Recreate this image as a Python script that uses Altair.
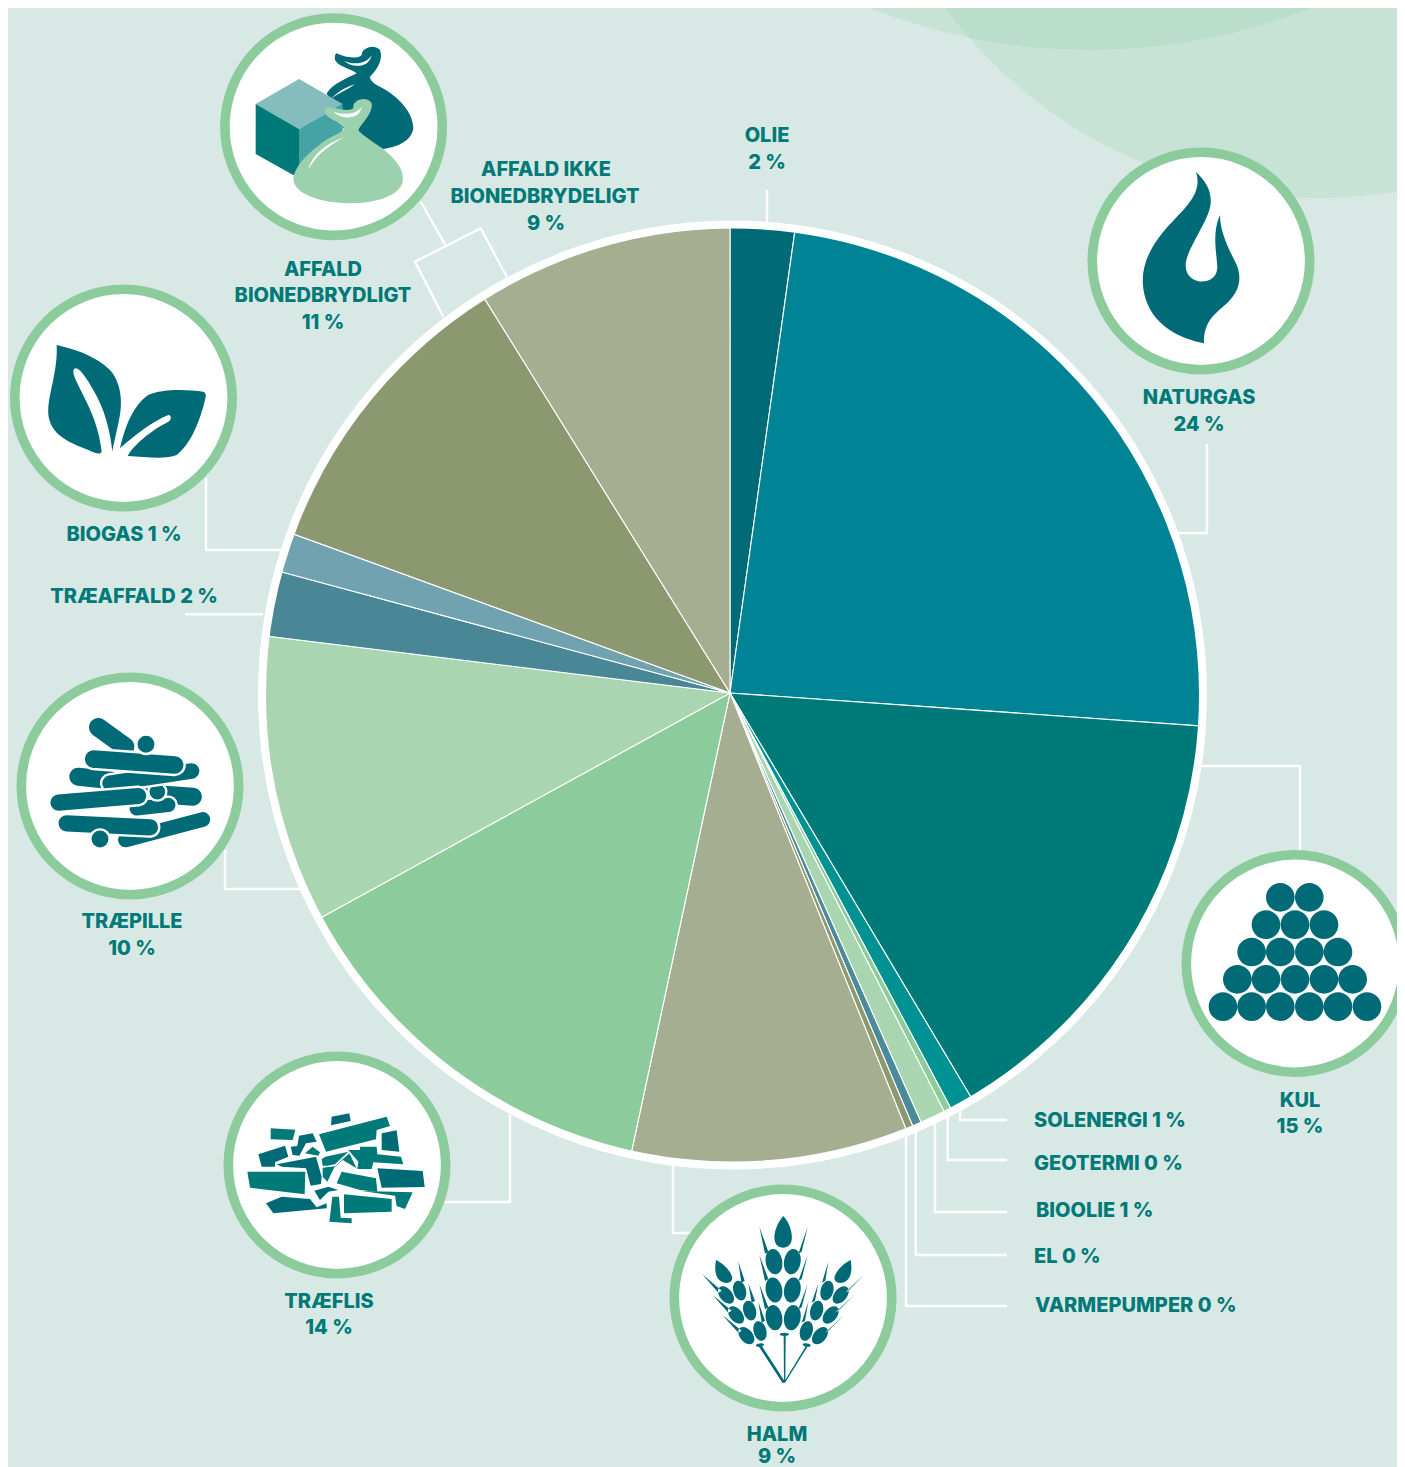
import math
import altair as alt
import pandas as pd

BG = "#d8e9e5"
TXT = "#007a78"
DARK = "#006b76"
TEAL = "#007a78"
GREEN = "#8ccb9b"

# ---- pie values (percent), clockwise from the top
names = ["OLIE", "NATURGAS", "KUL", "SOLENERGI", "GEOTERMI", "BIOOLIE", "EL", "VARMEPUMPER", "HALM",
         "TRÆFLIS", "TRÆPILLE", "TRÆAFFALD", "BIOGAS", "AFFALD BIO", "AFFALD IKKE BIO"]
values = [2.22, 23.89, 15.33, 0.78, 0.25, 0.86, 0.31, 0.25, 9.47, 13.64, 9.94, 2.25, 1.36, 10.58, 8.86]
colors = ["#006b76", "#008394", "#007a78", "#009292", "#8ccb9b", "#a9d5b1", "#4a8a99", "#8c9970", "#a5ae90",
          "#8ccb9b", "#a9d5b1", "#498797", "#70a2b0", "#8c9970", "#a5ae90"]

# ---- labels
center_labels = [("OLIE", 767, 136), ("2 %", 767, 163),
                 ("AFFALD IKKE", 546, 170), ("BIONEDBRYDELIGT", 545, 197), ("9 %", 546, 224),
                 ("NATURGAS", 1199, 398), ("24 %", 1199, 425),
                 ("AFFALD", 323, 270), ("BIONEDBRYDLIGT", 323, 296), ("11 %", 323, 323),
                 ("BIOGAS 1 %", 124, 535), ("TRÆAFFALD 2 %", 134, 597),
                 ("TRÆPILLE", 132, 922), ("10 %", 132, 949),
                 ("TRÆFLIS", 329, 1302), ("14 %", 329, 1328),
                 ("HALM", 777, 1435), ("9 %", 777, 1457),
                 ("KUL", 1300, 1101), ("15 %", 1300, 1127)]
left_labels = [("SOLENERGI 1 %", 1034, 1121), ("GEOTERMI  0 %", 1034, 1164), ("BIOOLIE 1 %", 1036, 1211),
               ("EL 0 %", 1034, 1257), ("VARMEPUMPER 0 %", 1035, 1306)]

# ---- leader lines
leaders = [
    [(767, 190), (767, 224)],
    [(1207, 444), (1207, 533), (1176, 533)],
    [(1197, 766), (1300, 766), (1300, 854)],
    [(960, 1110), (960, 1120), (1007, 1120)],
    [(947.7, 1115), (947.7, 1160), (1007, 1160)],
    [(935, 1122), (935, 1212), (1007, 1212)],
    [(915.7, 1130), (915.7, 1255), (1007, 1255)],
    [(906, 1132), (906, 1306), (1007, 1306)],
    [(673, 1163), (673, 1233), (692, 1233)],
    [(510, 1115), (510, 1202), (445, 1202)],
    [(225, 850), (225, 889), (301, 889)],
    [(185, 614.3), (263, 614.3)],
    [(206, 478), (206, 550), (281, 550)],
    [(420.7, 201.7), (445, 244.3)],
    [(506.7, 276.7), (480.7, 228.3), (415, 261.7), (443.3, 316.7)],
]

# ---- badges: centres
badges = [(333.6, 126.7), (1201, 261), (1295, 963.5), (783, 1298), (337, 1165), (130, 786), (123.5, 398)]
BADGE_R = 108.7
backdrop = [(1090, -551, 601), (1320, -266, 464)]


# ---- icon outline helpers: icons are drawn in a 3x local coordinate system
def circle(cx, cy, r):
    return f"M{cx-r},{cy}A{r},{r} 0 1 1 {cx+r},{cy}A{r},{r} 0 1 1 {cx-r},{cy}Z"


def ellipse(cx, cy, rx, ry, rot=0):
    a = math.radians(rot)
    dx, dy = ry * math.sin(a), -ry * math.cos(a)
    return (f"M{cx+dx:.1f},{cy+dy:.1f}A{rx},{ry} {rot} 1 1 {cx-dx:.1f},{cy-dy:.1f}"
            f"A{rx},{ry} {rot} 1 1 {cx+dx:.1f},{cy+dy:.1f}Z")


def poly(*pts):
    return "M" + "L".join(f"{x},{y}" for x, y in pts) + "Z"


def capsule(x1, y1, x2, y2, r):
    L = math.hypot(x2 - x1, y2 - y1)
    nx, ny = -(y2 - y1) / L * r, (x2 - x1) / L * r
    return (f"M{x1+nx:.1f},{y1+ny:.1f}L{x2+nx:.1f},{y2+ny:.1f}A{r},{r} 0 0 0 {x2-nx:.1f},{y2-ny:.1f}"
            f"L{x1-nx:.1f},{y1-ny:.1f}A{r},{r} 0 0 0 {x1+nx:.1f},{y1+ny:.1f}Z")


icon_rows = []


def add(ox, oy, path, color, halo=0):
    icon_rows.append(dict(x=ox, y=oy, path=path, color=color, order=len(icon_rows), halo=halo))


# affald
o = (210, 5)
add(*o, "M380,145C400,155 440,165 455,150C455,130 490,115 510,135C520,160 505,190 480,215C480,225 490,235 510,245"
        "C560,270 610,320 610,370C605,405 570,425 520,432L400,370L350,265C370,235 410,220 440,205"
        "C420,190 385,185 375,165C373,155 375,148 380,145Z", DARK)
add(*o, "M403,168C430,180 470,178 485,150C475,195 420,185 403,168Z", "#ffffff")
add(*o, "M365,280C385,260 410,245 435,238C410,255 385,265 365,280Z", "#ffffff")
add(*o, poly((137, 297), (267, 222), (398, 297), (267, 372)), "#85bcbd")
add(*o, poly((137, 297), (267, 372), (267, 520), (137, 447)), TEAL)
add(*o, poly((267, 372), (398, 297), (398, 440), (267, 520)), "#45a3a4")
add(*o, "M345,310C360,300 410,325 430,310C425,285 470,270 485,295C490,325 455,355 445,375C450,385 480,405 510,425"
        "C550,455 585,490 578,530C570,570 500,595 420,595C340,595 250,570 250,520C255,480 300,440 340,410"
        "C370,390 405,380 402,368C385,345 345,340 345,320Z", "#9bd1ad")
add(*o, "M370,320C395,330 440,330 455,305C450,345 395,345 370,320Z", "#ffffff")
add(*o, "M295,495C305,450 350,415 403,397C350,425 315,455 295,495Z", "#ffffff")

# naturgas
add(1080, 140, "M347,95C375,120 395,150 392,190C388,235 345,290 322,350C310,385 320,415 355,424C390,428 412,410 412,380"
               "C410,340 395,280 420,225C420,275 445,325 468,370C490,420 475,460 435,495C400,525 370,550 372,610"
               "C300,595 225,560 198,480C175,410 195,350 235,295C270,245 325,205 345,160C355,135 355,115 347,95Z", DARK)

# kul
kul_rows = [(157, [316, 403]), (239, [273, 360, 447]), (321, [230, 316, 403, 489]),
            (403, [187, 273, 360, 447, 533]), (485, [144, 230, 316, 403, 489, 576])]
add(1175, 845, "".join(circle(x, y, 43) for y, xs in kul_rows for x in xs), DARK)

# halm
o = (665, 1180)
p = "M355,108C375,130 383,160 380,180C377,197 365,203 355,203C340,203 330,195 328,175C328,150 340,125 355,108Z"
p += "M153,240C175,250 200,275 202,295C200,310 185,312 170,305C150,295 148,265 153,240Z"
p += "M557,240C535,250 510,275 508,295C510,310 525,312 540,305C560,295 562,265 557,240Z"
for y in (245, 330, 413):
    p += ellipse(327, y, 24, 38, -10) + ellipse(382, y, 24, 38, 10)
for (cx, cy, r) in [(183, 345, -40), (224, 332, -15), (213, 405, -40), (254, 392, -15), (244, 467, -40), (285, 453, -15),
                    (527, 345, 40), (486, 332, 15), (497, 405, 40), (455, 392, 15), (465, 467, 40), (424, 453, 15)]:
    p += ellipse(cx, cy, 19, 30, r)
for (tx, ty, bx, by) in [(283, 140, 305, 218), (283, 225, 305, 300), (283, 312, 305, 385),
                         (428, 140, 405, 218), (428, 225, 405, 300), (428, 312, 405, 385),
                         (112, 283, 165, 335), (143, 345, 195, 395), (172, 405, 225, 455),
                         (220, 245, 234, 305), (250, 310, 265, 365), (280, 365, 295, 425),
                         (598, 283, 545, 335), (567, 345, 515, 395), (538, 405, 485, 455),
                         (490, 245, 476, 305), (460, 310, 445, 365), (430, 365, 415, 425)]:
    p += poly((tx, ty), (bx - 5, by + 3), (bx + 5, by - 3))
p += poly((356, 468), (362, 468), (361, 608), (357, 608))
p += poly((282, 500), (290, 497), (360, 605), (353, 610))
p += poly((423, 498), (427, 501), (360, 608), (357, 606))
p += ellipse(358, 463, 5, 14, 90) + ellipse(285, 495, 5, 12, 80) + ellipse(425, 495, 5, 12, 100)
add(*o, p, DARK)

# traeflis
o = (220, 1045)
chips = [
    ([(335, 215), (388, 205), (392, 228), (333, 241)], DARK),
    ([(297, 268), (500, 215), (510, 243), (470, 255), (468, 283), (318, 320)], TEAL),
    ([(152, 250), (226, 254), (218, 285), (152, 283)], TEAL),
    ([(212, 305), (232, 303), (237, 272), (278, 265), (290, 290), (258, 295), (238, 332), (218, 330)], DARK),
    ([(115, 328), (195, 302), (205, 335), (165, 352), (165, 365), (125, 365)], DARK),
    ([(485, 265), (530, 256), (538, 320), (485, 315)], DARK),
    ([(385, 315), (420, 315), (420, 305), (470, 305), (472, 328), (543, 335), (550, 358), (460, 352), (455, 372),
      (412, 372), (415, 350)], TEAL),
    ([(255, 325), (278, 305), (300, 322), (295, 332)], TEAL),
    ([(170, 358), (288, 335), (305, 395), (303, 417), (272, 422), (258, 370), (185, 365)], DARK),
    ([(82, 380), (256, 380), (254, 448), (90, 428)], TEAL),
    ([(305, 342), (316, 335), (385, 320), (345, 358), (322, 362), (308, 362)], TEAL),
    ([(388, 325), (410, 370), (368, 345), (342, 368), (322, 410), (308, 395), (308, 368), (345, 364)], TEAL),
    ([(365, 380), (468, 400), (472, 440), (420, 435), (350, 415)], TEAL),
    ([(472, 370), (608, 378), (614, 426), (485, 428)], DARK),
    ([(283, 437), (325, 425), (355, 435), (325, 440), (300, 465)], DARK),
    ([(425, 438), (578, 442), (555, 492), (530, 483), (525, 452)], TEAL),
    ([(138, 475), (185, 455), (270, 462), (290, 487), (320, 475), (320, 490), (160, 505)], DARK),
    ([(372, 448), (515, 462), (515, 500), (372, 505)], TEAL),
    ([(337, 455), (357, 455), (362, 518), (395, 520), (395, 535), (328, 530)], TEAL),
]
for pts, col in chips:
    add(*o, poly(*pts), col)

# traepille (back to front; halo = white outline that separates the pellets)
o = (10, 665)
pellets = [
    (capsule(265, 187, 345, 245, 28), 0),
    (capsule(205, 335, 300, 345, 27), 0),
    (capsule(550, 395, 400, 385, 27), 0),
    (capsule(380, 430, 475, 420, 25), 1),
    (circle(442, 380, 27), 1),
    (capsule(545, 318, 300, 355, 27), 1),
    (capsule(250, 282, 495, 300, 30), 1),
    (circle(408, 238, 29), 1),
    (capsule(145, 413, 385, 393, 28), 1),
    (capsule(580, 463, 345, 525, 26), 1),
    (capsule(170, 475, 420, 487, 28), 1),
    (circle(270, 522, 29), 1),
]
for path, halo_flag in pellets:
    add(*o, path, DARK, halo_flag)

# biogas
o = (5, 280)
add(*o, "M155,195C200,205 270,225 315,270C350,310 355,370 340,430C332,470 325,495 322,515C315,450 300,390 265,330"
        "C245,295 225,265 212,265C200,268 205,285 215,305C240,360 280,420 290,515C285,525 270,520 250,510"
        "C200,490 150,470 135,425C115,370 160,290 155,195Z", DARK)
add(*o, "M345,505C360,440 385,375 430,345C470,325 550,328 595,335C605,340 603,350 600,360C585,420 560,490 515,525"
        "C480,540 420,530 368,528C385,495 440,450 490,425C500,420 500,405 490,405C440,425 390,465 345,505Z", DARK)

icons = pd.DataFrame(icon_rows)

# ---- shared pixel scales
X0, Y0 = 8, 8
W_, H_ = 1389, 1459
xs = alt.Scale(domain=[X0, X0 + W_], range=[0, W_])
ys = alt.Scale(domain=[Y0, Y0 + H_], range=[0, H_])
X = lambda f="x": alt.X(f"{f}:Q", scale=xs, axis=None)
Y = lambda f="y": alt.Y(f"{f}:Q", scale=ys, axis=None)

back_df = pd.DataFrame([dict(x=a, y=b, s=(2 * r) ** 2) for a, b, r in backdrop])
back = alt.Chart(back_df).mark_point(filled=True, shape="circle", fill="#8ccba5", opacity=0.22, strokeWidth=0).encode(
    x=X(), y=Y(), size=alt.Size("s:Q", scale=None, legend=None))

line_df = pd.DataFrame([dict(x=p[0], y=p[1], k=i, n=j) for i, l in enumerate(leaders) for j, p in enumerate(l)])
lines = alt.Chart(line_df).mark_line(color="#ffffff", strokeWidth=2.4, strokeJoin="miter", strokeCap="butt").encode(
    x=X(), y=Y(), detail="k:N", order="n:Q")

pie_df = pd.DataFrame(dict(name=names, value=values, color=colors, i=range(len(names))))
pie = alt.Chart(pie_df).mark_arc(radius=471, stroke="#ffffff", strokeWidth=1.1).encode(
    theta=alt.Theta("value:Q", stack=True),
    order=alt.Order("i:Q"),
    color=alt.Color("color:N", scale=None, legend=None),
    x=alt.value(730 - X0), y=alt.value(693 - Y0))

# white rim over the pie's edge (slightly off-centre from the slices, as in the reference)
rim_df = pd.DataFrame([dict(x=732.5, y=695, s=(2 * 470.5) ** 2)])
rim = alt.Chart(rim_df).mark_point(filled=False, shape="circle", stroke="#ffffff", strokeWidth=8, opacity=1).encode(
    x=X(), y=Y(), size=alt.Size("s:Q", scale=None, legend=None))

badge_df = pd.DataFrame([dict(x=a, y=b, s=(2 * BADGE_R) ** 2) for a, b in badges])
rings = alt.Chart(badge_df).mark_point(filled=True, shape="circle", fill="#ffffff", stroke=GREEN, strokeWidth=9.6,
                                       opacity=1).encode(
    x=X(), y=Y(), size=alt.Size("s:Q", scale=None, legend=None))

ICON_SIZE = (2 / 3) ** 2
icon_layer = alt.Chart(icons).mark_point(filled=True, opacity=1, size=ICON_SIZE).encode(
    x=X(), y=Y(),
    shape=alt.Shape("path:N", scale=None, legend=None),
    fill=alt.Fill("color:N", scale=None, legend=None),
    stroke=alt.value("#ffffff"),
    strokeWidth=alt.StrokeWidth("halo:Q", scale=alt.Scale(domain=[0, 1], range=[0, 2.4]), legend=None),
    order="order:Q")

FONT = dict(font="Inter", fontSize=20, fontWeight=800, color=TXT, baseline="middle")
txt_c = alt.Chart(pd.DataFrame(center_labels, columns=["t", "x", "y"])).mark_text(align="center", **FONT).encode(
    x=X(), y=Y(), text="t:N")
txt_l = alt.Chart(pd.DataFrame(left_labels, columns=["t", "x", "y"])).mark_text(align="left", **FONT).encode(
    x=X(), y=Y(), text="t:N")

chart = alt.layer(back, lines, pie, rim, rings, icon_layer, txt_c, txt_l).resolve_scale(
    color="independent", size="independent", shape="independent"
).properties(
    width=W_, height=H_, background=BG, padding=0,
    autosize=alt.AutoSizeParams(type="none")
).configure_view(stroke=None)

chart.save("out.html", embed_options={"renderer": "svg", "actions": False})
